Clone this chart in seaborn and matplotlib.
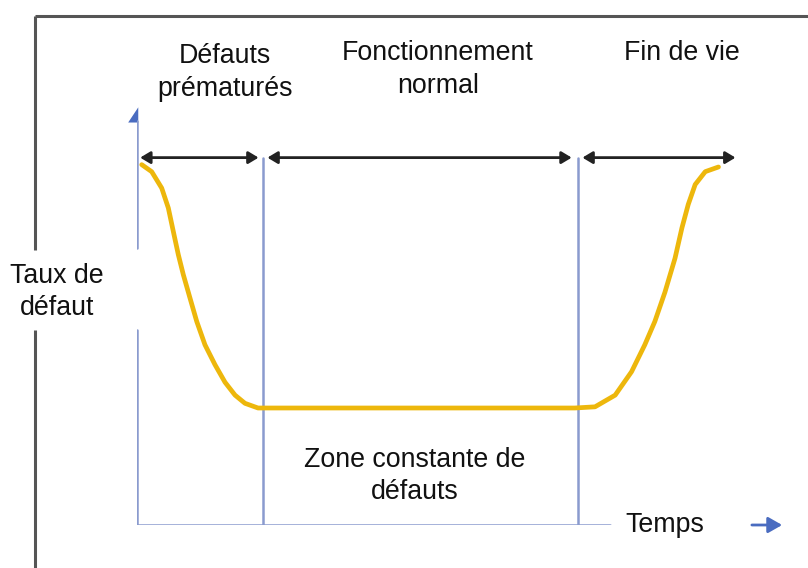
import matplotlib
matplotlib.use("Agg")
import matplotlib.pyplot as plt
import seaborn as sns
import pandas as pd

# bathtub curve (time units, failure-rate units)
curve_time = [0.075, 0.233, 0.392, 0.497, 0.576, 0.656, 0.735, 0.841, 0.948, 1.079, 1.238,
              1.397, 1.556, 1.714, 1.921, 2.0, 4.5, 6.95, 7.27, 7.59, 7.85, 8.06, 8.22,
              8.38, 8.54, 8.65, 8.75, 8.86, 9.02, 9.23]
curve_rate = [3.08, 3.02, 2.88, 2.71, 2.51, 2.31, 2.14, 1.94, 1.74, 1.54, 1.37,
              1.22, 1.11, 1.04, 1.0, 1.0, 1.0, 1.0, 1.01, 1.11, 1.31, 1.54, 1.74,
              1.99, 2.28, 2.54, 2.74, 2.91, 3.02, 3.06]

phase_bounds = [2.0, 7.0]
phase_arrows = [(0.05, 1.93), (2.07, 6.9), (7.07, 9.5)]
phase_labels = ["Défauts\nprématurés", "Fonctionnement\nnormal", "Fin de vie"]
phase_label_x = [225, 438, 682]
phase_label_y = [43, 40, 40]
arrow_level = 3.14
x_label = "Temps"
y_label = "Taux de\ndéfaut"
zone_label = "Zone constante de\ndéfauts"

sns.set_theme(style="white")
plt.rcParams["font.family"] = ["Liberation Sans", "DejaVu Sans"]

fig = plt.figure(figsize=(8.08, 5.68), dpi=100)

# overlay in pixel units for frame and texts
bg = fig.add_axes([0, 0, 1, 1])
bg.set_xlim(0, 808)
bg.set_ylim(568, 0)
bg.axis("off")

frame_col = "#555555"
bg.plot([35, 808], [16, 16], color=frame_col, lw=2.2, solid_capstyle="butt")
bg.plot([35, 35], [16, 250], color=frame_col, lw=2.2, solid_capstyle="butt")
bg.plot([35, 35], [330, 568], color=frame_col, lw=2.2, solid_capstyle="butt")

fs = 19.3
ls = 1.33
for lab, xx, yy in zip(phase_labels, phase_label_x, phase_label_y):
    bg.text(xx, yy, lab, ha="center", va="top", fontsize=fs, color="#111111", linespacing=ls)
bg.text(57, 292, y_label, ha="center", va="center", fontsize=fs, color="#111111", linespacing=ls)
bg.text(415, 476, zone_label, ha="center", va="center", fontsize=fs, color="#111111", linespacing=ls)

# chart axes: x = time, y = failure rate
ax = fig.add_axes([137 / 808, 43 / 568, 671 / 808, 509 / 568])
ax.set_xlim(0, 671 / 63)
ax.set_ylim(0, 509 / 117)
ax.axis("off")
ax.patch.set_alpha(0)

blue = "#8A9BCE"
# y axis with gap and half arrowhead
ax.plot([0, 0], [0, 1.67], color=blue, lw=1.8)
ax.plot([0, 0], [2.37, 3.45], color=blue, lw=1.8)
ax.fill([0.02, 0.02, -0.14], [3.44, 3.57, 3.44], color="#4A6CC0", lw=0, clip_on=False)
# x axis
ax.plot([0, 7.5], [0, 0], color=blue, lw=1.8)
ax.text(8.38, 0, x_label, ha="center", va="center", fontsize=fs, color="#111111")
ax.annotate("", xy=(10.24, 0), xytext=(9.76, 0),
            arrowprops=dict(arrowstyle="-|>,head_length=0.7,head_width=0.4", color="#4A6CC0", lw=2.0,
                            shrinkA=0, shrinkB=0))

# phase boundaries
for b in phase_bounds:
    ax.plot([b, b], [0, arrow_level], color=blue, lw=1.8)

# phase double arrows
for a0, a1 in phase_arrows:
    ax.annotate("", xy=(a1, arrow_level), xytext=(a0, arrow_level),
                arrowprops=dict(arrowstyle="<|-|>,head_length=0.5,head_width=0.3",
                                color="#222222", lw=2.0, shrinkA=0, shrinkB=0))

df = pd.DataFrame({"time": curve_time, "rate": curve_rate})
sns.lineplot(data=df, x="time", y="rate", sort=False, estimator=None,
             color="#EDB70C", lw=3.4, ax=ax)
ax.axis("off")

fig.savefig("out.png", dpi=100)
